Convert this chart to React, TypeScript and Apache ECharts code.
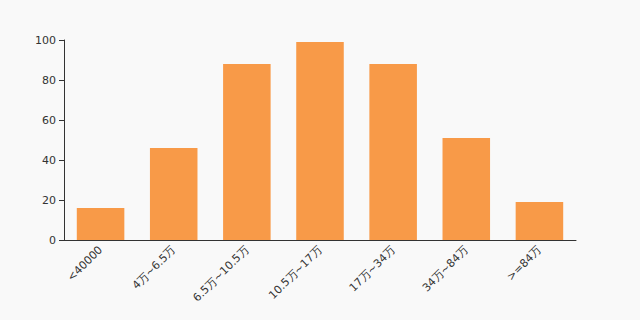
import React, { useEffect, useRef } from "react";
import * as echarts from "echarts";

const categories = ["<40000", "4万~6.5万", "6.5万~10.5万", "10.5万~17万", "17万~34万", "34万~84万", ">=84万"];
const values = [16, 46, 88, 99, 88, 51, 19];

export default function App() {
  const ref = useRef<HTMLDivElement>(null);
  useEffect(() => {
    const chart = echarts.init(ref.current!, undefined, { renderer: "svg" });
    chart.setOption({
      animation: false,
      backgroundColor: "#f9f9f9",
      textStyle: { fontFamily: "DejaVu Sans" },
      grid: { left: 64, right: 64, top: 40, bottom: 80 },
      xAxis: {
        type: "category",
        data: categories,
        axisLine: { lineStyle: { color: "#333" } },
        axisTick: { lineStyle: { color: "#333" } },
        axisLabel: { rotate: 45, color: "#333", fontSize: 11, interval: 0 },
      },
      yAxis: {
        type: "value",
        min: 0,
        max: 100,
        interval: 20,
        splitLine: { show: false },
        axisLine: { show: true, lineStyle: { color: "#333" } },
        axisTick: { show: true, lineStyle: { color: "#333" } },
        axisLabel: { color: "#333", fontSize: 11 },
      },
      series: [
        {
          type: "bar",
          data: values,
          barWidth: "65%",
          itemStyle: { color: "#f89a48" },
        },
      ],
    });
    return () => chart.dispose();
  }, []);
  return <div ref={ref} style={{ position: "fixed", left: 0, top: 0, width: 640, height: 320 }} />;
}
